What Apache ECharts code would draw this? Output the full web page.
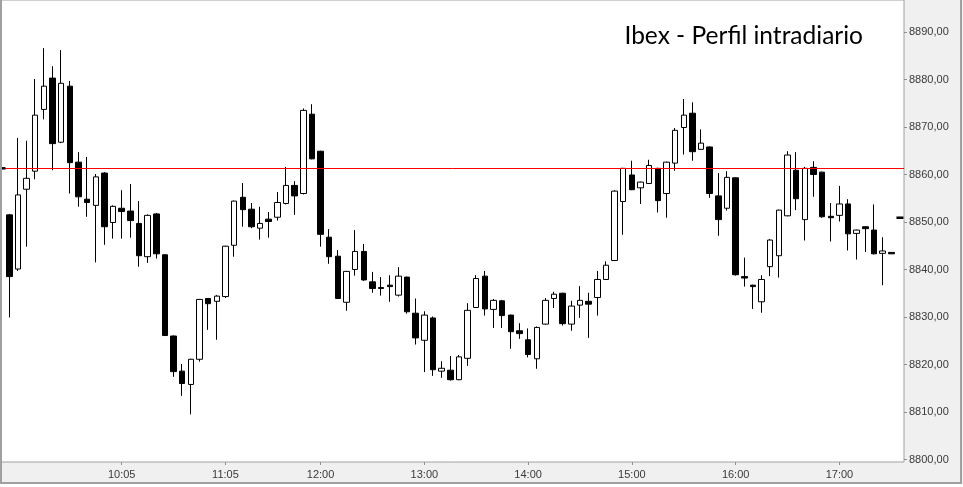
<!DOCTYPE html>
<html>
<head>
<meta charset="utf-8">
<script src="https://cdn.jsdelivr.net/npm/echarts@6/dist/echarts.min.js"></script>
<style>
html,body{margin:0;padding:0;background:#fff;}
#main{width:963px;height:487px;}
</style>
</head>
<body>
<div id="main"></div>
<script>
const times = ['09:00','09:05','09:10','09:15','09:20','09:25','09:30','09:35','09:40','09:45','09:50','09:55',
'10:00','10:05','10:10','10:15','10:20','10:25','10:30','10:35','10:40','10:45','10:50','10:55',
'11:00','11:05','11:10','11:15','11:20','11:25','11:30','11:35','11:40','11:45','11:50','11:55',
'12:00','12:05','12:10','12:15','12:20','12:25','12:30','12:35','12:40','12:45','12:50','12:55',
'13:00','13:05','13:10','13:15','13:20','13:25','13:30','13:35','13:40','13:45','13:50','13:55',
'14:00','14:05','14:10','14:15','14:20','14:25','14:30','14:35','14:40','14:45','14:50','14:55',
'15:00','15:05','15:10','15:15','15:20','15:25','15:30','15:35','15:40','15:45','15:50','15:55',
'16:00','16:05','16:10','16:15','16:20','16:25','16:30','16:35','16:40','16:45','16:50','16:55',
'17:00','17:05','17:10','17:15','17:20','17:25','17:30'];

const openV = [8851.5,8840.1,8856.9,8860.7,8873.7,8880.3,8866.8,8878.6,8862.6,8854.8,8853.5,8860.3,8849.9,8852.9,8852.3,8849.7,8842.7,8851.7,8843.1,8826.0,
8818.6,8815.8,8821.1,8833.9,8833.3,8834.3,8845.1,8855.2,8852.7,8848.7,8850.6,8851.0,8853.9,8857.7,8856.0,8872.7,8864.9,8846.8,8842.8,8833.1,
8840.0,8843.8,8837.4,8836.2,8836.7,8834.6,8838.4,8830.8,8825.1,8829.8,8818.6,8818.8,8816.8,8821.3,8832.0,8838.6,8831.6,8833.4,8830.4,8827.1,
8825.2,8821.2,8828.5,8833.9,8835.0,8828.5,8832.5,8833.3,8834.1,8837.9,8841.9,8854.3,8859.9,8857.2,8858.1,8861.3,8856.0,8862.4,8869.9,8872.9,
8865.3,8865.8,8855.5,8852.9,8859.3,8838.5,8836.7,8833.2,8840.6,8842.9,8851.3,8860.9,8850.5,8861.5,8860.5,8851.2,8851.4,8853.8,8847.6,8849.0,
8848.3,8843.4,8843.6];
const closeV = [8838.5,8855.7,8859.2,8872.5,8878.6,8866.5,8879.2,8862.5,8855.3,8854.1,8859.5,8849.0,8853.3,8852.2,8850.3,8842.9,8851.4,8843.3,8826.1,8818.5,
8816.0,8821.1,8833.7,8832.8,8834.4,8844.9,8854.4,8852.6,8849.0,8849.7,8850.1,8854.1,8857.7,8855.5,8873.5,8863.3,8847.4,8842.7,8833.9,8839.6,
8843.8,8837.8,8836.0,8836.0,8836.4,8838.6,8831.1,8825.6,8830.4,8818.9,8819.2,8816.8,8821.6,8831.4,8838.1,8831.7,8833.5,8830.3,8826.9,8826.5,
8822.1,8827.8,8833.5,8834.8,8828.6,8832.3,8833.5,8832.7,8837.9,8840.9,8856.5,8861.3,8856.8,8858.4,8861.9,8854.5,8862.6,8869.3,8872.5,8864.8,
8866.6,8856.0,8850.5,8859.4,8838.9,8838.2,8836.4,8837.9,8846.2,8852.5,8864.1,8854.9,8861.3,8860.0,8851.1,8850.9,8853.8,8847.5,8848.3,8848.6,
8843.3,8843.9,8843.3];
const lowV = [8829.9,8839.7,8844.8,8859.0,8871.6,8860.9,8866.6,8856.0,8853.2,8851.1,8841.5,8845.2,8846.5,8846.5,8846.7,8840.6,8841.4,8842.3,8826.0,8817.4,
8813.4,8809.5,8820.6,8827.3,8825.2,8834.0,8842.7,8849.0,8848.7,8846.3,8846.7,8850.3,8853.7,8851.5,8855.8,8863.2,8844.8,8841.2,8833.8,8831.3,
8838.7,8837.6,8835.1,8834.5,8833.2,8834.3,8830.7,8824.2,8818.4,8817.6,8817.2,8816.6,8816.7,8819.7,8831.9,8830.3,8827.7,8827.7,8823.3,8825.4,
8821.5,8819.1,8828.4,8831.9,8828.2,8827.1,8829.8,8825.6,8830.3,8837.8,8841.8,8847.3,8856.7,8853.8,8858.0,8852.0,8850.9,8860.8,8864.2,8862.9,
8865.2,8855.1,8847.1,8852.4,8838.7,8836.4,8831.7,8830.9,8838.6,8838.3,8851.2,8852.5,8846.1,8855.3,8850.9,8845.9,8850.1,8844.0,8842.1,8843.7,
8843.2,8836.7,8843.3];
const highV = [8851.7,8867.7,8867.1,8880.1,8886.6,8882.8,8886.2,8879.7,8864.7,8863.7,8860.1,8860.5,8853.5,8856.7,8858.0,8854.4,8851.6,8851.9,8843.2,8826.1,
8820.1,8821.2,8833.8,8834.0,8834.6,8845.0,8854.5,8858.2,8854.0,8853.2,8852.1,8856.3,8861.6,8858.6,8873.9,8874.8,8865.0,8848.5,8844.1,8839.7,
8848.3,8845.4,8839.5,8838.4,8838.8,8840.5,8838.5,8833.9,8831.2,8830.1,8820.7,8821.8,8822.0,8832.9,8838.8,8839.7,8833.8,8833.6,8830.5,8828.7,
8827.6,8828.0,8834.0,8835.3,8835.1,8833.4,8836.5,8835.1,8839.7,8841.7,8856.7,8861.4,8862.9,8858.5,8863.1,8861.4,8862.7,8869.8,8875.9,8875.2,
8869.5,8865.9,8860.3,8860.7,8859.4,8842.5,8836.8,8838.8,8846.4,8852.6,8864.9,8864.7,8861.6,8862.8,8860.6,8854.0,8857.6,8854.8,8848.4,8849.1,
8853.7,8846.8,8843.6];

const xTickLabels = ['10:05','11:05','12:00','13:00','14:00','15:00','16:00','17:00'];
const yTickMin = 8800, yTickMax = 8890, yTickStep = 10;
const refLevel = 8861.3;
const lastPrice = 8850.9;
const titleText = 'Ibex - Perfil intradiario';

const candleData = times.map((t, i) => [i, openV[i], closeV[i], lowV[i], highV[i]]);
const xTickIdx = xTickLabels.map(t => times.indexOf(t));
const fmtPrice = v => v.toFixed(2).replace('.', ',');

const chart = echarts.init(document.getElementById('main'));
chart.setOption({
  animation: false,
  backgroundColor: '#f0f0f0',
  title: {
    text: titleText,
    right: 95,
    top: 19,
    textStyle: {fontFamily: 'Lato', fontSize: 24.5, fontWeight: 'normal', color: '#000'}
  },
  grid: [
    {left: 1, top: 0, right: 59, bottom: 25,
     show: true, backgroundColor: '#fff', borderColor: '#a0a0a0', borderWidth: 1},
    {left: 1, top: 32, right: 59, bottom: 27.5, show: false}
  ],
  xAxis: [{
    type: 'value',
    gridIndex: 0,
    min: -0.96, max: 103.47,
    axisLine: {show: false, onZero: false},
    splitLine: {show: false},
    axisTick: {show: true, customValues: xTickIdx, length: 3, lineStyle: {color: '#909090'}},
    axisLabel: {
      customValues: xTickIdx,
      formatter: v => times[Math.round(v)],
      fontFamily: 'Liberation Sans', fontSize: 11, color: '#3a3a3a', margin: 7
    }
  }, {
    type: 'value', gridIndex: 1, show: false, min: 0, max: 1,
    axisLine: {onZero: false}
  }],
  yAxis: [{
    type: 'value',
    gridIndex: 0,
    position: 'right',
    min: 8799.47, max: 8896.74,
    show: false,
    axisLine: {onZero: false},
    splitLine: {show: false}
  }, {
    type: 'value',
    gridIndex: 1,
    position: 'right',
    min: yTickMin, max: yTickMax, interval: yTickStep,
    axisLine: {show: false, onZero: false},
    splitLine: {show: false},
    axisTick: {show: true, length: 3, lineStyle: {color: '#909090'}},
    axisLabel: {
      formatter: v => fmtPrice(v),
      fontFamily: 'Liberation Sans', fontSize: 11, color: '#3a3a3a', margin: 5
    }
  }],
  series: [{
    type: 'candlestick',
    xAxisIndex: 0, yAxisIndex: 0,
    data: candleData,
    encode: {x: 0, y: [1, 2, 3, 4]},
    barWidth: 6,
    itemStyle: {color: '#ffffff', color0: '#000000', borderColor: '#000000', borderColor0: '#000000', borderWidth: 1},
    markLine: {
      silent: true,
      symbol: 'none',
      animation: false,
      data: [
        {yAxis: refLevel, lineStyle: {color: '#ff0000', width: 1, type: 'solid'}, label: {show: false}},
        {yAxis: lastPrice, lineStyle: {opacity: 0, width: 0},
         label: {show: true, position: 'end', distance: 3, formatter: fmtPrice(lastPrice),
                 backgroundColor: '#ffffff', color: '#000', padding: [2, 3, 1, 2],
                 fontFamily: 'Liberation Sans', fontSize: 11}}
      ]
    },
    markPoint: {
      silent: true,
      animation: false,
      label: {show: false},
      data: [
        {coord: [103, lastPrice], symbol: 'rect', symbolSize: [7, 2.5], itemStyle: {color: '#000'}},
        {coord: [-0.73, refLevel], symbol: 'rect', symbolSize: [5, 2.5], itemStyle: {color: '#000'}}
      ]
    }
  }],
  graphic: [
    {type: 'rect', shape: {x: 1, y: -5, width: 960, height: 488}, style: {fill: 'none', stroke: '#a0a0a0', lineWidth: 2}, silent: true, z: 100},
    {type: 'rect', shape: {x: 0, y: 484, width: 963, height: 3}, style: {fill: '#ffffff'}, silent: true, z: 100}
  ]
});
</script>
</body>
</html>
